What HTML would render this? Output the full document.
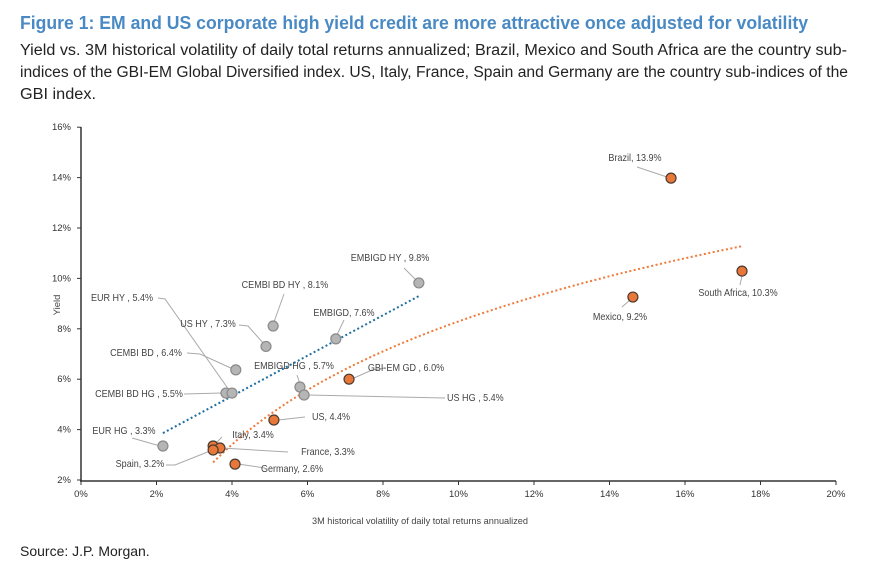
<!DOCTYPE html>
<html><head><meta charset="utf-8"><style>
body{margin:0;background:#fff;width:883px;height:570px;overflow:hidden;font-family:"Liberation Sans Narrow","Liberation Sans",sans-serif}
.fit{position:absolute;left:20px;white-space:nowrap;transform-origin:0 0;display:inline-block}
.t{top:12px;font-size:18.5px;font-weight:bold;color:#4a8ac4}
.s{font-size:15.5px;color:#222}
.src{position:absolute;left:20px;top:543px;font-size:14px;color:#222}
svg{position:absolute;left:0;top:0}
</style></head><body>
<div class="fit t" data-w="788">Figure 1: EM and US corporate high yield credit are more attractive once adjusted for volatility</div>
<div class="fit s" style="top:42px" data-w="827">Yield vs. 3M historical volatility of daily total returns annualized; Brazil, Mexico and South Africa are the country sub-</div>
<div class="fit s" style="top:64px" data-w="828">indices of the GBI-EM Global Diversified index. US, Italy, France, Spain and Germany are the country sub-indices of the</div>
<div class="fit s" style="top:86px" data-w="76">GBI index.</div>
<div class="src">Source: J.P. Morgan.</div>
<svg id="c" width="883" height="570"></svg>
<script>
document.querySelectorAll('.fit').forEach(el=>{const w=el.getBoundingClientRect().width;el.style.transform='scaleX('+(+el.dataset.w/w)+')';});
const xTicks=[0,2,4,6,8,10,12,14,16,18,20];
const yTicks=[2,4,6,8,10,12,14,16];
const grayNames=["EMBIGD HY","CEMBI BD HY","EMBIGD","US HY","CEMBI BD","EMBIGD HG","US HG","CEMBI BD HG","EUR HY","EUR HG"];
const grayVol=[8.95,5.09,6.75,4.9,4.1,5.8,5.91,3.84,4.0,2.17];
const grayYield=[9.82,8.11,7.6,7.3,6.37,5.69,5.37,5.45,5.45,3.35];
const grayLabels=["EMBIGD HY , 9.8%","CEMBI BD HY , 8.1%","EMBIGD, 7.6%","US HY , 7.3%","CEMBI BD , 6.4%","EMBIGD HG , 5.7%","US HG , 5.4%","CEMBI BD HG , 5.5%","EUR HY , 5.4%","EUR HG , 3.3%"];
const orangeNames=["Brazil","South Africa","Mexico","GBI-EM GD","US","Italy","France","Spain","Germany"];
const orangeVol=[15.63,17.51,14.62,7.1,5.11,3.5,3.68,3.5,4.08];
const orangeYield=[13.98,10.29,9.26,6.0,4.38,3.35,3.27,3.19,2.63];
const orangeLabels=["Brazil, 13.9%","South Africa, 10.3%","Mexico, 9.2%","GBI-EM GD , 6.0%","US, 4.4%","Italy, 3.4%","France, 3.3%","Spain, 3.2%","Germany, 2.6%"];
const blueTrend=[[2.17,3.86],[8.95,9.3]];
const orangeTrendCoef=[5.33,-3.98];
const orangeTrendRange=[3.5,17.54];

const X=v=>81+v*37.75, Y=v=>480-(v-2)*25.2;
const svg=document.getElementById('c');
const NS='http://www.w3.org/2000/svg';
function mk(tag,a,p){const e=document.createElementNS(NS,tag);for(const k in a)e.setAttribute(k,a[k]);(p||svg).appendChild(e);return e;}
let e=mk('line',{x1:81,y1:127,x2:81,y2:481,stroke:'#333','stroke-width':1.5});


e=mk('line',{x1:80,y1:481,x2:836,y2:481,stroke:'#333','stroke-width':1.5});


xTicks.forEach(v=>{
  mk('line',{x1:X(v),y1:481,x2:X(v),y2:485,stroke:'#333'});
  const t=mk('text',{x:X(v),y:497,'font-size':9.5,'text-anchor':'middle',fill:'#333'});
  t.textContent=v+'%';
  
  
});
yTicks.forEach(v=>{
  mk('line',{x1:77,y1:Y(v),x2:81,y2:Y(v),stroke:'#333'});
  const t=mk('text',{x:71,y:Y(v)+3,'font-size':9.5,'text-anchor':'end',fill:'#333'});
  t.textContent=v+'%';
  
  
});
e=mk('text',{x:420,y:524,'font-size':9.5,'text-anchor':'middle',fill:'#444',textLength:216,lengthAdjust:'spacingAndGlyphs'});
e.textContent='3M historical volatility of daily total returns annualized';


e=mk('text',{x:0,y:0,'font-size':9.5,'text-anchor':'middle',fill:'#444',transform:'translate(60,305) rotate(-90)'});
e.textContent='Yield';


e=mk('line',{x1:X(blueTrend[0][0]),y1:Y(blueTrend[0][1]),x2:X(blueTrend[1][0]),y2:Y(blueTrend[1][1]),stroke:'#1f6fa0','stroke-width':2,'stroke-dasharray':'2 2.5'});


let d='';
for(let i=0;i<=60;i++){const x=orangeTrendRange[0]+(orangeTrendRange[1]-orangeTrendRange[0])*i/60;const y=orangeTrendCoef[0]*Math.log(x)+orangeTrendCoef[1];d+=(i?'L':'M')+X(x).toFixed(1)+','+Y(y).toFixed(1);}
e=mk('path',{d:d,fill:'none',stroke:'#ef7a3a','stroke-width':2,'stroke-dasharray':'2 2.5'});


const grayLay=[[390,261,'middle',[[404,268],[419,283]]],[285,288,'middle',[[284,294],[274,322]]],[344,316,'middle',[[344,320],[336,337]]],[208,327,'middle',[[239,325],[248,326],[264,344]]],[146,356,'middle',[[187,353],[200,354],[233,369]]],[294,369,'middle',[[297,375],[300,384]]],[447,401,'start',[[308,395],[445,398]]],[139,397,'middle',[[184,394],[222,393]]],[122,301,'middle',[[158,298],[165,299],[229,390]]],[124,434,'middle',[[132,438],[160,446]]]];
const orangeLay=[[635,161,'middle',[[637,167],[667,177]]],[738,296,'middle',[[740,285],[742,276]]],[620,320,'middle',[[622,307],[630,300]]],[406,371,'middle',[[354,378],[372,370],[385,368]]],[331,420,'middle',[[278,420],[305,417]]],[253,438,'middle',[[222,437],[215,444]]],[328,455,'middle',[[222,448],[288,452]]],[140,467,'middle',[[166,465],[175,465],[210,451]]],[292,472,'middle',[[238,464],[265,468]]]];
function series(vol,yl,labels,lay,fill,stroke,nm){
  vol.forEach((v,i)=>{
    const L=lay[i];
    const l=mk('polyline',{points:L[3].map(p=>p.join(',')).join(' '),fill:'none',stroke:'#aaa','stroke-width':1});
    
    
  });
  vol.forEach((v,i)=>{
    const c=mk('circle',{cx:X(v),cy:Y(yl[i]),r:5,fill:fill,stroke:stroke,'stroke-width':1.2});
    
    
    const L=lay[i];
    const t=mk('text',{x:L[0],y:L[1],'font-size':10.5,'text-anchor':L[2],fill:'#444'});
    t.textContent=labels[i];
    
    
    const w=t.getComputedTextLength();
    t.setAttribute('textLength',(w*0.86).toFixed(1));
    t.setAttribute('lengthAdjust','spacingAndGlyphs');
  });
}
series(grayVol,grayYield,grayLabels,grayLay,'#b5b5b5','#8a8a8a','corporate');
series(orangeVol,orangeYield,orangeLabels,orangeLay,'#e8773a','#4a3a30','sovereign');
</script>
</body></html>
